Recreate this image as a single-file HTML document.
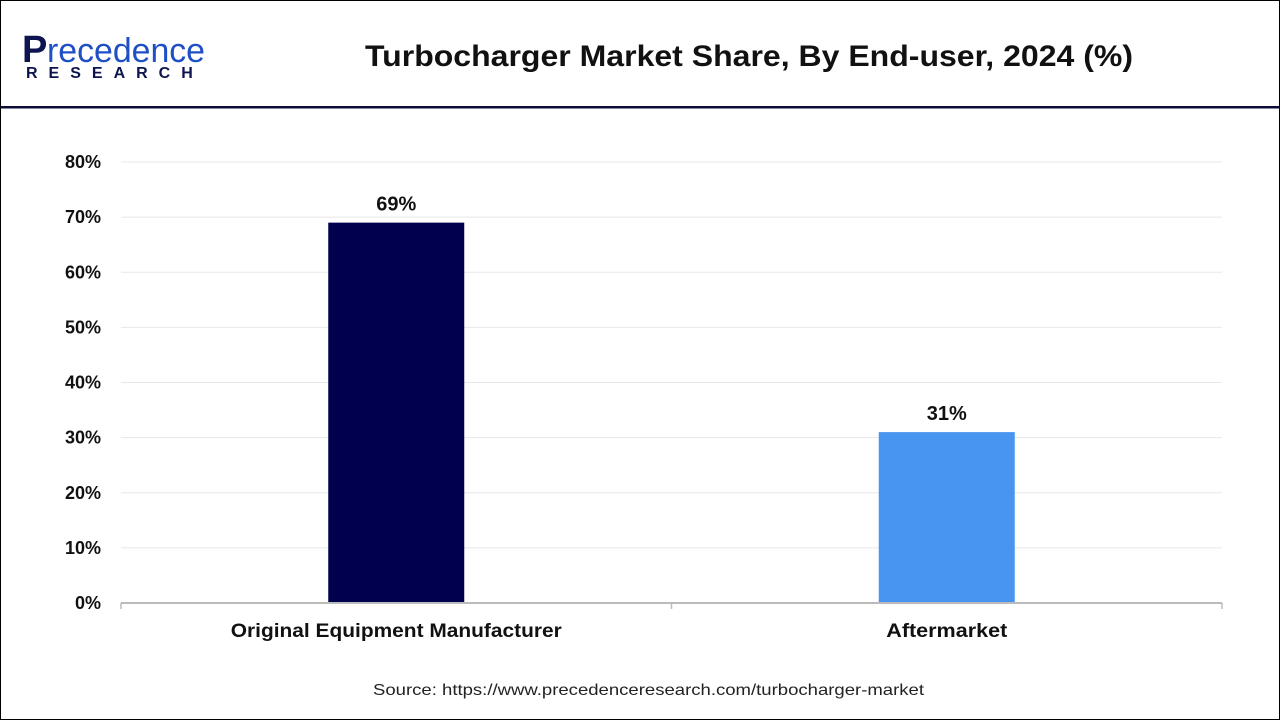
<!DOCTYPE html>
<html><head><meta charset="utf-8"><style>
body{margin:0;width:1280px;height:720px;overflow:hidden;background:#fff;font-family:"Liberation Sans",sans-serif}
#frame{position:absolute;left:0;top:0;width:1278px;height:718px;border:1px solid #000}
</style></head><body>
<div id="frame"></div>
<svg width="1280" height="720" style="position:absolute;left:0;top:0">
<g>
<text x="22" y="62" font-size="38" font-weight="bold" fill="#0d1450">P</text>
<text x="47" y="62" font-size="34" fill="#1e4fc4" textLength="158" lengthAdjust="spacingAndGlyphs">recedence</text>
<text x="26" y="78" font-size="16" font-weight="bold" fill="#0d1450" letter-spacing="11">RESEARCH</text>
</g>
<text x="365" y="66" font-size="30" font-weight="bold" fill="#111" textLength="768" lengthAdjust="spacingAndGlyphs">Turbocharger Market Share, By End-user, 2024 (%)</text>
<rect x="1" y="106" width="1278" height="2.5" fill="#0d0d3a"/>
<g id="grid"></g><g id="bars"></g><g id="axes"></g>
<text x="373" y="695" font-size="16" fill="#222" textLength="551" lengthAdjust="spacingAndGlyphs">Source: https://www.precedenceresearch.com/turbocharger-market</text>
</svg>
<script>
const categories=["Original Equipment Manufacturer","Aftermarket"];
const values=[69,31];
const valueLabels=["69%","31%"];
const ticks=[0,10,20,30,40,50,60,70,80];
const colors=["#01004f","#4795ee"];
const labelWidths=[331,121];
const NS="http://www.w3.org/2000/svg";
const x0=121,x1=1222,y0=603,yTop=162,yMax=80;
const y=v=>y0-(y0-yTop)*v/yMax;
const band=(x1-x0)/categories.length;
const xc=i=>x0+band*(i+0.5);
function mk(p,t,a){const e=document.createElementNS(NS,t);for(const k in a)e.setAttribute(k,a[k]);p.appendChild(e);return e;}
const g=document.getElementById('grid'),b=document.getElementById('bars'),ax=document.getElementById('axes');
ticks.forEach(t=>{
 if(t>0){const l=mk(g,'line',{x1:x0,x2:x1,y1:y(t),y2:y(t),stroke:'#e8e8e8','stroke-width':1});
 
 }
 const tx=mk(ax,'text',{x:101,y:y(t)+6,'font-size':18,'font-weight':'bold','text-anchor':'end',fill:'#111'});
 tx.textContent=t+'%';
 
 
});
const al=mk(ax,'line',{x1:x0,x2:x1,y1:y0,y2:y0,stroke:'#bbb','stroke-width':2});


for(let i=0;i<=categories.length;i++){const tk=mk(ax,'line',{x1:x0+band*i,x2:x0+band*i,y1:y0,y2:y0+6,stroke:'#bbb','stroke-width':1.5});
 
 }
categories.forEach((c,i)=>{
 const w=136;
 const r=mk(b,'rect',{x:xc(i)-w/2,y:y(values[i]),width:w,height:y0-y(values[i]),fill:colors[i]});
 
 
 const v=mk(b,'text',{x:xc(i),y:y(values[i])-12,'font-size':20,'font-weight':'bold','text-anchor':'middle',fill:'#111'});
 v.textContent=valueLabels[i];
 
 
 const cl=mk(ax,'text',{x:xc(i)-labelWidths[i]/2,y:637,'font-size':19,'font-weight':'bold',fill:'#111',textLength:labelWidths[i],lengthAdjust:'spacingAndGlyphs'});
 cl.textContent=c;
 
 
});
</script>
</body></html>
